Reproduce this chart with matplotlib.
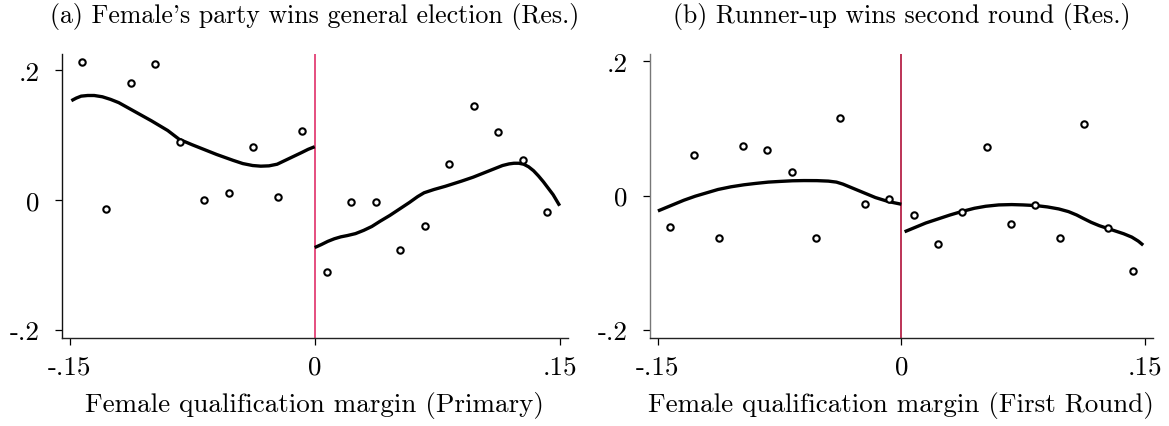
import matplotlib
matplotlib.use("Agg")
import matplotlib.pyplot as plt

plt.rcParams['font.family'] = ['cmr10', 'DejaVu Serif']
plt.rcParams['mathtext.fontset'] = 'cm'
plt.rcParams['axes.unicode_minus'] = False

# binned means, 0.015-wide bins on each side of the cutoff
bins = [-0.1425, -0.1275, -0.1125, -0.0975, -0.0825, -0.0675, -0.0525, -0.0375, -0.0225, -0.0075,
        0.0075, 0.0225, 0.0375, 0.0525, 0.0675, 0.0825, 0.0975, 0.1125, 0.1275, 0.1425]

party_wins = [0.213, -0.014, 0.181, 0.210, 0.090, 0.000, 0.010, 0.081, 0.005, 0.106,
              -0.111, -0.004, -0.004, -0.077, -0.040, 0.056, 0.145, 0.105, 0.061, -0.019]
runnerup_wins = [-0.047, 0.061, -0.063, 0.074, 0.068, 0.035, -0.064, 0.115, -0.013, -0.005,
                 -0.029, -0.073, -0.024, 0.073, -0.042, -0.014, -0.064, 0.106, -0.049, -0.112]

# local polynomial fits, left and right of zero
fit_a_left_x = [-0.149, -0.146, -0.143, -0.139, -0.135, -0.130, -0.125, -0.120, -0.110, -0.100,
                -0.090, -0.083, -0.075, -0.068, -0.060, -0.050, -0.044, -0.038, -0.033, -0.028,
                -0.023, -0.018, -0.013, -0.008, -0.004, 0.0]
fit_a_left_y = [0.153, 0.157, 0.160, 0.161, 0.161, 0.159, 0.155, 0.150, 0.136, 0.122,
                0.107, 0.0935, 0.085, 0.078, 0.070, 0.061, 0.056, 0.053, 0.052, 0.0525,
                0.055, 0.061, 0.067, 0.073, 0.078, 0.082]
fit_a_right_x = [0.0, 0.004, 0.008, 0.012, 0.016, 0.020, 0.025, 0.030, 0.035, 0.040,
                 0.046, 0.052, 0.058, 0.063, 0.067, 0.073, 0.080, 0.090, 0.097, 0.105,
                 0.110, 0.115, 0.119, 0.122, 0.125, 0.128, 0.131, 0.134, 0.137, 0.140,
                 0.143, 0.146, 0.150]
fit_a_right_y = [-0.0735, -0.069, -0.064, -0.060, -0.057, -0.055, -0.052, -0.047, -0.041, -0.033,
                 -0.024, -0.014, -0.004, 0.005, 0.011, 0.016, 0.021, 0.029, 0.035, 0.043,
                 0.048, 0.053, 0.0555, 0.0565, 0.0565, 0.055, 0.051, 0.045, 0.037, 0.028,
                 0.018, 0.008, -0.009]

fit_b_left_x = [-0.150, -0.145, -0.140, -0.134, -0.127, -0.120, -0.113, -0.105, -0.097, -0.090,
                -0.082, -0.075, -0.067, -0.060, -0.052, -0.045, -0.040, -0.036, -0.032, -0.028,
                -0.024, -0.020, -0.016, -0.012, -0.008, -0.004, 0.0]
fit_b_left_y = [-0.023, -0.018, -0.013, -0.007, -0.001, 0.004, 0.009, 0.013, 0.016, 0.018,
                0.020, 0.021, 0.022, 0.0223, 0.0222, 0.0215, 0.020, 0.017, 0.013, 0.009,
                0.005, 0.001, -0.003, -0.006, -0.009, -0.011, -0.013]
fit_b_right_x = [0.002, 0.006, 0.010, 0.015, 0.020, 0.025, 0.030, 0.037, 0.045, 0.052,
                 0.060, 0.068, 0.075, 0.083, 0.090, 0.097, 0.103, 0.108, 0.112, 0.117,
                 0.122, 0.127, 0.132, 0.137, 0.142, 0.146, 0.149]
fit_b_right_y = [-0.054, -0.050, -0.046, -0.041, -0.037, -0.033, -0.029, -0.024, -0.019, -0.016,
                 -0.014, -0.0135, -0.014, -0.015, -0.017, -0.020, -0.024, -0.029, -0.034, -0.040,
                 -0.045, -0.049, -0.053, -0.057, -0.062, -0.068, -0.074]

titles = ["(a) Female's party wins general election (Res.)",
          "(b) Runner-up wins second round (Res.)"]
xlabels = ["Female qualification margin (Primary)",
           "Female qualification margin (First Round)"]
xticks = [-0.15, 0, 0.15]
xtick_labels = ["-.15", "0", ".15"]
yticks = [-0.2, 0, 0.2]
ytick_labels = ["-.2", "0", ".2"]

fig = plt.figure(figsize=(11.69, 4.27), dpi=100)
ax_a = fig.add_axes([0.0528, 0.2061, 0.4328, 0.6651])
ax_b = fig.add_axes([0.5560, 0.2061, 0.4301, 0.6651])

panels = [
    (ax_a, party_wins, fit_a_left_x, fit_a_left_y, fit_a_right_x, fit_a_right_y,
     '#e0306a', '#111111', (-0.2130, 0.2250)),
    (ax_b, runnerup_wins, fit_b_left_x, fit_b_left_y, fit_b_right_x, fit_b_right_y,
     '#b0103a', '#777777', (-0.2124, 0.2110)),
]

for i, (ax, ys, lx, ly, rx, ry, cut_color, lspine_color, ylim) in enumerate(panels):
    ax.axvline(0, color=cut_color, lw=1.2, zorder=1)
    ax.plot(lx, ly, color='black', lw=2.4, solid_capstyle='butt', solid_joinstyle='round', zorder=3)
    ax.plot(rx, ry, color='black', lw=2.4, solid_capstyle='butt', solid_joinstyle='round', zorder=3)
    ax.plot(bins, ys, linestyle='none', marker='o', markersize=4.6,
            markerfacecolor='white', markeredgecolor='black', markeredgewidth=1.5, zorder=4)

    ax.set_xlim(-0.1549, 0.1549)
    ax.set_ylim(*ylim)
    ax.set_xticks(xticks)
    ax.set_xticklabels(xtick_labels)
    ax.set_yticks(yticks)
    ax.set_yticklabels(ytick_labels)
    ax.tick_params(axis='both', direction='out', length=5, width=0.9, labelsize=19.5)
    ax.tick_params(axis='x', pad=7)
    ax.tick_params(axis='y', pad=11)

    for side in ['top', 'right']:
        ax.spines[side].set_visible(False)
    ax.spines['left'].set_color(lspine_color)
    ax.spines['bottom'].set_color('#222222')
    ax.spines['left'].set_linewidth(1.0)
    ax.spines['bottom'].set_linewidth(1.0)

    ax.set_title(titles[i], fontsize=18.6, pad=23)
    ax.set_xlabel(xlabels[i], fontsize=19.5, labelpad=9)

fig.savefig("out.png", dpi=100)
